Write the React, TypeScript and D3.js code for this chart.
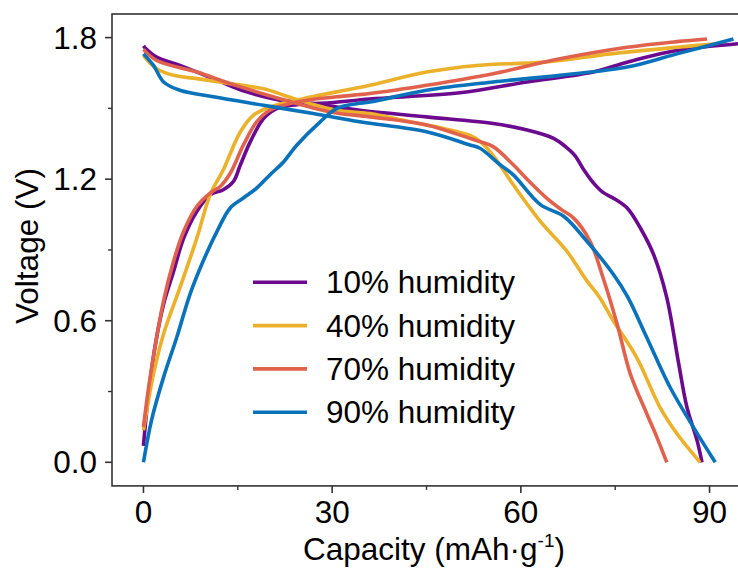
import React from 'react';
import * as d3 from 'd3';

// ---- Data (capacity mAh/g, voltage V) ----
const h10ChargeCap = [0, 0.8, 1.9, 3.2, 4.8, 6.4, 8.5, 10.6, 12.7, 14.3, 15.4, 17, 19.1, 21.2, 24.4, 29.7, 36, 50.3, 61, 71.5, 76.9, 84.8, 95];
const h10ChargeV = [0.07, 0.29, 0.5, 0.67, 0.81, 0.95, 1.064, 1.134, 1.155, 1.19, 1.26, 1.359, 1.457, 1.499, 1.516, 1.524, 1.54, 1.566, 1.612, 1.654, 1.696, 1.745, 1.775];
const h10DisCap = [0, 0.5, 2.1, 5.8, 11.1, 16.4, 21.7, 27, 34.4, 45, 55.6, 61, 65.2, 67, 68.6, 70, 71.5, 73, 75, 77, 79, 81.1, 83.2, 85.1, 86.4, 88, 88.8];
const h10DisV = [1.765, 1.75, 1.717, 1.682, 1.626, 1.57, 1.535, 1.52, 1.492, 1.464, 1.436, 1.408, 1.373, 1.34, 1.3, 1.24, 1.185, 1.145, 1.115, 1.075, 0.993, 0.881, 0.698, 0.417, 0.234, 0.094, 0.0];

const h40ChargeCap = [0, 1.6, 3.2, 5.8, 8.5, 10.6, 12.7, 15.4, 17.5, 20.1, 25.4, 30.7, 36, 45, 53, 63.6, 74.2, 84.8, 90.6];
const h40ChargeV = [0.136, 0.375, 0.544, 0.74, 0.951, 1.134, 1.24, 1.4, 1.471, 1.506, 1.541, 1.57, 1.598, 1.654, 1.682, 1.696, 1.731, 1.759, 1.773];
const h40DisCap = [0, 2.1, 4.8, 8.5, 13.8, 19.1, 22.3, 26.5, 30.7, 36, 42.4, 47.7, 51.9, 53.5, 55.6, 58.8, 63.1, 67.3, 70.5, 72.5, 74.7, 78.4, 82.1, 84.8, 88.5];
const h40DisV = [1.724, 1.668, 1.64, 1.626, 1.605, 1.583, 1.556, 1.52, 1.492, 1.478, 1.443, 1.415, 1.385, 1.36, 1.3, 1.176, 1.021, 0.895, 0.769, 0.7, 0.6, 0.445, 0.234, 0.122, 0.0];

const h70ChargeCap = [0, 1.07, 3.2, 4.8, 6.4, 8.5, 10.6, 12.2, 13.8, 15.9, 18, 20.1, 24.4, 30.7, 36, 45, 55.6, 66.2, 76.9, 84.8, 89.6];
const h70ChargeV = [0.15, 0.361, 0.684, 0.853, 0.979, 1.085, 1.141, 1.169, 1.225, 1.345, 1.443, 1.492, 1.527, 1.549, 1.563, 1.598, 1.647, 1.71, 1.759, 1.783, 1.794];
const h70DisCap = [0, 2.1, 8.5, 13.8, 21.7, 29.7, 36, 45, 51.9, 53.5, 55.6, 58.8, 61, 64.1, 66.5, 68.4, 71, 73.1, 75.3, 77.4, 80, 81.6, 83.2];
const h70DisV = [1.75, 1.703, 1.654, 1.605, 1.541, 1.485, 1.464, 1.43, 1.373, 1.359, 1.338, 1.261, 1.2, 1.12, 1.07, 1.035, 0.937, 0.78, 0.586, 0.375, 0.207, 0.108, 0.0];

const h90ChargeCap = [0, 1.3, 3.2, 5.3, 7.4, 9.5, 11.7, 13.8, 15.9, 18, 20.1, 22.3, 24.4, 28.1, 30.7, 33.9, 36, 45, 55.6, 66.2, 76.9, 84.8, 93.8];
const h90ChargeV = [0, 0.18, 0.361, 0.53, 0.712, 0.853, 0.979, 1.078, 1.12, 1.162, 1.218, 1.274, 1.345, 1.443, 1.499, 1.52, 1.527, 1.577, 1.612, 1.64, 1.675, 1.731, 1.794];
const h90DisCap = [0, 1.6, 3.2, 5.8, 11.1, 19.1, 27, 34.4, 45, 51.9, 53.5, 56.7, 58.8, 63.1, 66.8, 70.5, 74.7, 77, 80, 83.7, 87.4, 90.9];
const h90DisV = [1.731, 1.682, 1.612, 1.577, 1.549, 1.513, 1.478, 1.443, 1.401, 1.345, 1.331, 1.261, 1.218, 1.092, 1.043, 0.937, 0.797, 0.7, 0.53, 0.319, 0.15, 0.0];

const labels = ['10% humidity', '40% humidity', '70% humidity', '90% humidity'];
const colors = ['#6c0a8f', '#ecb12a', '#e0624c', '#0a71bb'];

const xTicks = [0, 30, 60, 90];
const xMinor = [15, 45, 75];
const yTicks = [0.0, 0.6, 1.2, 1.8];
const yMinor = [0.3, 0.9, 1.5];

const seriesList = [
  { cc: h10ChargeCap, cv: h10ChargeV, dc: h10DisCap, dv: h10DisV },
  { cc: h40ChargeCap, cv: h40ChargeV, dc: h40DisCap, dv: h40DisV },
  { cc: h70ChargeCap, cv: h70ChargeV, dc: h70DisCap, dv: h70DisV },
  { cc: h90ChargeCap, cv: h90ChargeV, dc: h90DisCap, dv: h90DisV },
];

const W = 738;
const H = 572;
const L = 112, R = 741, T = 14, B = 485.9;
const FONT = '"Liberation Sans", Arial, Helvetica, sans-serif';
const FS = 31.5;

export default function App() {
  const x = d3.scaleLinear().domain([-5, 95]).range([L, R]);
  const y = d3.scaleLinear().domain([-0.1, 1.9]).range([B, T]);
  const line = d3
    .line<[number, number]>()
    .x((d) => x(d[0]))
    .y((d) => y(d[1]))
    .curve(d3.curveCatmullRom.alpha(0.5));
  const zip = (a: number[], b: number[]) => a.map((v, i) => [v, b[i]] as [number, number]);
  const axisColor = '#333';

  return (
    <svg width={W} height={H} style={{ position: 'absolute', left: 0, top: 0, background: '#fff' }}>
      <defs>
        <clipPath id="plot">
          <rect x={L} y={T} width={R - L} height={B - T} />
        </clipPath>
      </defs>
      <rect x={0} y={0} width={W} height={H} fill="#fff" />
      <g clipPath="url(#plot)" fill="none" strokeWidth={3.6} strokeLinejoin="round" strokeLinecap="butt">
        {seriesList.map((s, i) => (
          <g key={i} stroke={colors[i]}>
            <path d={line(zip(s.cc, s.cv)) || ''} />
            <path d={line(zip(s.dc, s.dv)) || ''} />
          </g>
        ))}
      </g>
      {/* spines */}
      <rect x={L} y={T} width={R - L} height={B - T} fill="none" stroke={axisColor} strokeWidth={1.6} />
      {/* x ticks */}
      {xTicks.map((t) => (
        <g key={'x' + t}>
          <line x1={x(t)} x2={x(t)} y1={B} y2={B + 7} stroke={axisColor} strokeWidth={1.6} />
          <text x={x(t)} y={522.5} textAnchor="middle" fontFamily={FONT} fontSize={FS} fill="#000">
            {t}
          </text>
        </g>
      ))}
      {xMinor.map((t) => (
        <line key={'xm' + t} x1={x(t)} x2={x(t)} y1={B} y2={B + 4} stroke={axisColor} strokeWidth={1.4} />
      ))}
      {yTicks.map((t) => (
        <g key={'y' + t}>
          <line x1={L - 7} x2={L} y1={y(t)} y2={y(t)} stroke={axisColor} strokeWidth={1.6} />
          <text x={97} y={y(t) + 11} textAnchor="end" fontFamily={FONT} fontSize={FS} fill="#000">
            {t.toFixed(1)}
          </text>
        </g>
      ))}
      {yMinor.map((t) => (
        <line key={'ym' + t} x1={L - 4} x2={L} y1={y(t)} y2={y(t)} stroke={axisColor} strokeWidth={1.4} />
      ))}
      {/* axis labels */}
      <text x={434} y={560} textAnchor="middle" fontFamily={FONT} fontSize={FS} fill="#000">
        Capacity (mAh·g
        <tspan fontSize={19} dy={-13}>-1</tspan>
        <tspan dy={13}>)</tspan>
      </text>
      <text
        transform={`translate(38, 246) rotate(-90)`}
        textAnchor="middle"
        fontFamily={FONT}
        fontSize={FS}
        fill="#000"
      >
        Voltage (V)
      </text>
      {/* legend */}
      {labels.map((lab, i) => {
        const ly = 282.3 + i * 43.3;
        return (
          <g key={lab}>
            <line x1={253} x2={307} y1={ly} y2={ly} stroke={colors[i]} strokeWidth={3.6} />
            <text x={326} y={ly + 11} fontFamily={FONT} fontSize={FS} fill="#000">
              {lab}
            </text>
          </g>
        );
      })}
    </svg>
  );
}
